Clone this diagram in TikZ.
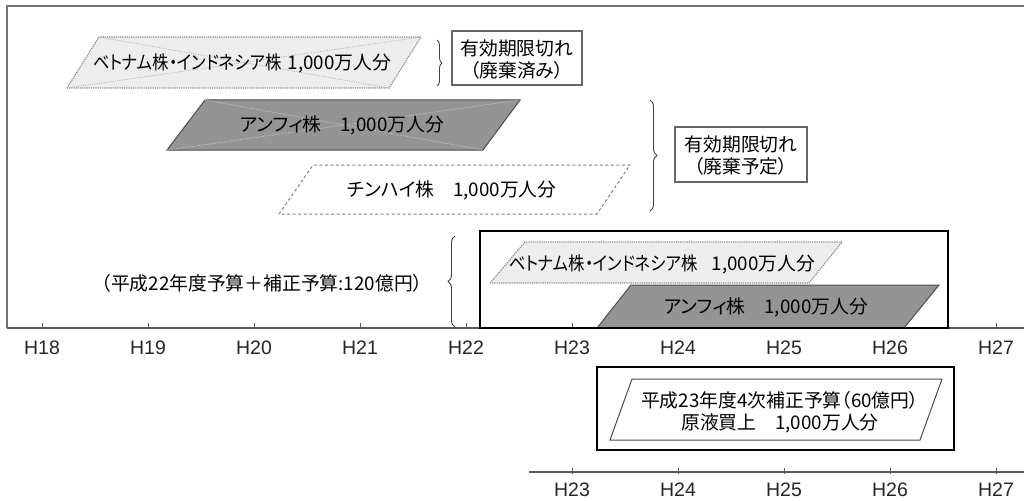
\documentclass[tikz,border=0pt]{standalone}
\usepackage{fontspec}
\setmainfont{Liberation Sans}
\newfontfamily\jp[RawFeature=+palt]{Noto Sans CJK JP}
\newfontfamily\jpw{Noto Sans CJK JP}
\usetikzlibrary{decorations.pathreplacing}
\begin{document}
\begin{tikzpicture}[x=1pt,y=-1pt,
  jtext/.style={font=\jp\fontsize{18.8}{22}\selectfont, inner sep=0pt, align=center},
  jwtext/.style={font=\jpw\fontsize{18.8}{22}\selectfont, inner sep=0pt, align=center},
  axlabel/.style={font=\fontsize{19.5}{20}\selectfont, inner sep=0pt, text=black!85},
  frameline/.style={draw=black!55, line width=1.4pt},
  axisline/.style={draw=black!65, line width=1.2pt},
  tickline/.style={draw=black!65, line width=1pt},
  vietnam/.style={fill=black!7, draw=black!45, densely dotted, line width=1.2pt},
  amphi/.style={fill=black!42, draw=black!70, line width=1pt},
  chinhai/.style={fill=white, draw=black!50, line width=1pt, dash pattern=on 3pt off 2.5pt},
  crossv/.style={draw=black!30, densely dotted, line width=0.8pt},
  crossa/.style={draw=black!22, densely dotted, line width=0.8pt},
  thickbox/.style={draw=black, line width=2.8pt},
  thinbox/.style={draw=black!60, line width=1.2pt, fill=white},
  plainpara/.style={draw=black!70, line width=1pt, fill=white},
  bracestyle/.style={draw=black!75, line width=0.9pt, decorate, decoration={brace, amplitude=#1}},
]
\useasboundingbox (0,0) rectangle (1024,500);

% outer frame and main axis
\draw[frameline] (1024,6) -- (7,6) -- (7,328);
\draw[axisline] (7,328) -- (1024,328);
\foreach \n in {18,...,27}{
  \pgfmathsetmacro{\xx}{42+106*(\n-18)}
  \draw[tickline] (\xx,323) -- (\xx,329);
  \node[axlabel] (h\n) at (\xx,348) {H\n};
}

% Vietnam/Indonesia strain (expired, discarded)
\draw[vietnam] (67,88) -- (99,37) -- (421,37) -- (389,88) -- cycle;
\draw[crossv] (99,37) -- (389,88);
\draw[crossv] (67,88) -- (421,37);
\node[jtext] (v1) at (242,63) {\scalebox{0.87}[1]{ベトナム株・インドネシア株}\hspace{6pt}1,000万人分};

\coordinate (b1s) at (437,40);
\coordinate (b1e) at (437,86);
\draw[bracestyle=5pt] (b1s) -- (b1e);
\draw[thinbox] (452,31) rectangle (582,85);
\node[jtext] (exp1) at (517,60) {有効期限切れ\\（廃棄済み）};

% Anhui strain (expired, to be discarded)
\draw[amphi] (167,150) -- (205,100) -- (520,100) -- (483,150) -- cycle;
\draw[crossa] (205,100) -- (483,150);
\draw[crossa] (167,150) -- (520,100);
\node[jtext] (a1) at (342,125) {アンフィ株　1,000万人分};

% Qinghai strain
\draw[chinhai] (279,214) -- (313,165) -- (630,165) -- (597,214) -- cycle;
\node[jtext] (c1) at (452,190) {チンハイ株　1,000万人分};

\coordinate (b2s) at (650,100);
\coordinate (b2e) at (650,211);
\draw[bracestyle=7pt] (b2s) -- (b2e);
\draw[thinbox] (675,127) rectangle (807,182);
\node[jtext] (exp2) at (741,156) {有効期限切れ\\（廃棄予定）};

% FY22 budget block
\node[jwtext] (bud) at (262,283) {（平成22年度予算＋補正予算:120億円）};
\coordinate (b3s) at (455,327);
\coordinate (b3e) at (455,236);
\draw[bracestyle=7pt] (b3s) -- (b3e);

\draw[vietnam] (490,283) -- (525,242) -- (842,242) -- (809,283) -- cycle;
\node[jtext] (v2) at (662,264) {\scalebox{0.87}[1]{ベトナム株・インドネシア株}\hspace{14pt}1,000万人分};
\draw[amphi] (597,328) -- (631,285) -- (939,285) -- (904,328) -- cycle;
\node[jtext] (a2) at (766,307) {アンフィ株　1,000万人分};
\draw[thickbox] (480,231) rectangle (948,328);

% FY23 4th supplementary budget
\draw[thickbox] (597,367) rectangle (954,450);
\draw[plainpara] (610,440) -- (632,379) -- (942,379) -- (920,440) -- cycle;
\node[jtext] (fy23) at (780,412) {平成23年度4次補正予算（60億円）\\原液買上　1,000万人分};

% lower axis
\draw[axisline] (529,472) -- (1024,472);
\foreach \n in {23,...,27}{
  \pgfmathsetmacro{\xx}{42+106*(\n-18)}
  \draw[tickline] (\xx,468) -- (\xx,474);
  \node[axlabel] (g\n) at (\xx,490) {H\n};
}
\end{tikzpicture}
\end{document}
